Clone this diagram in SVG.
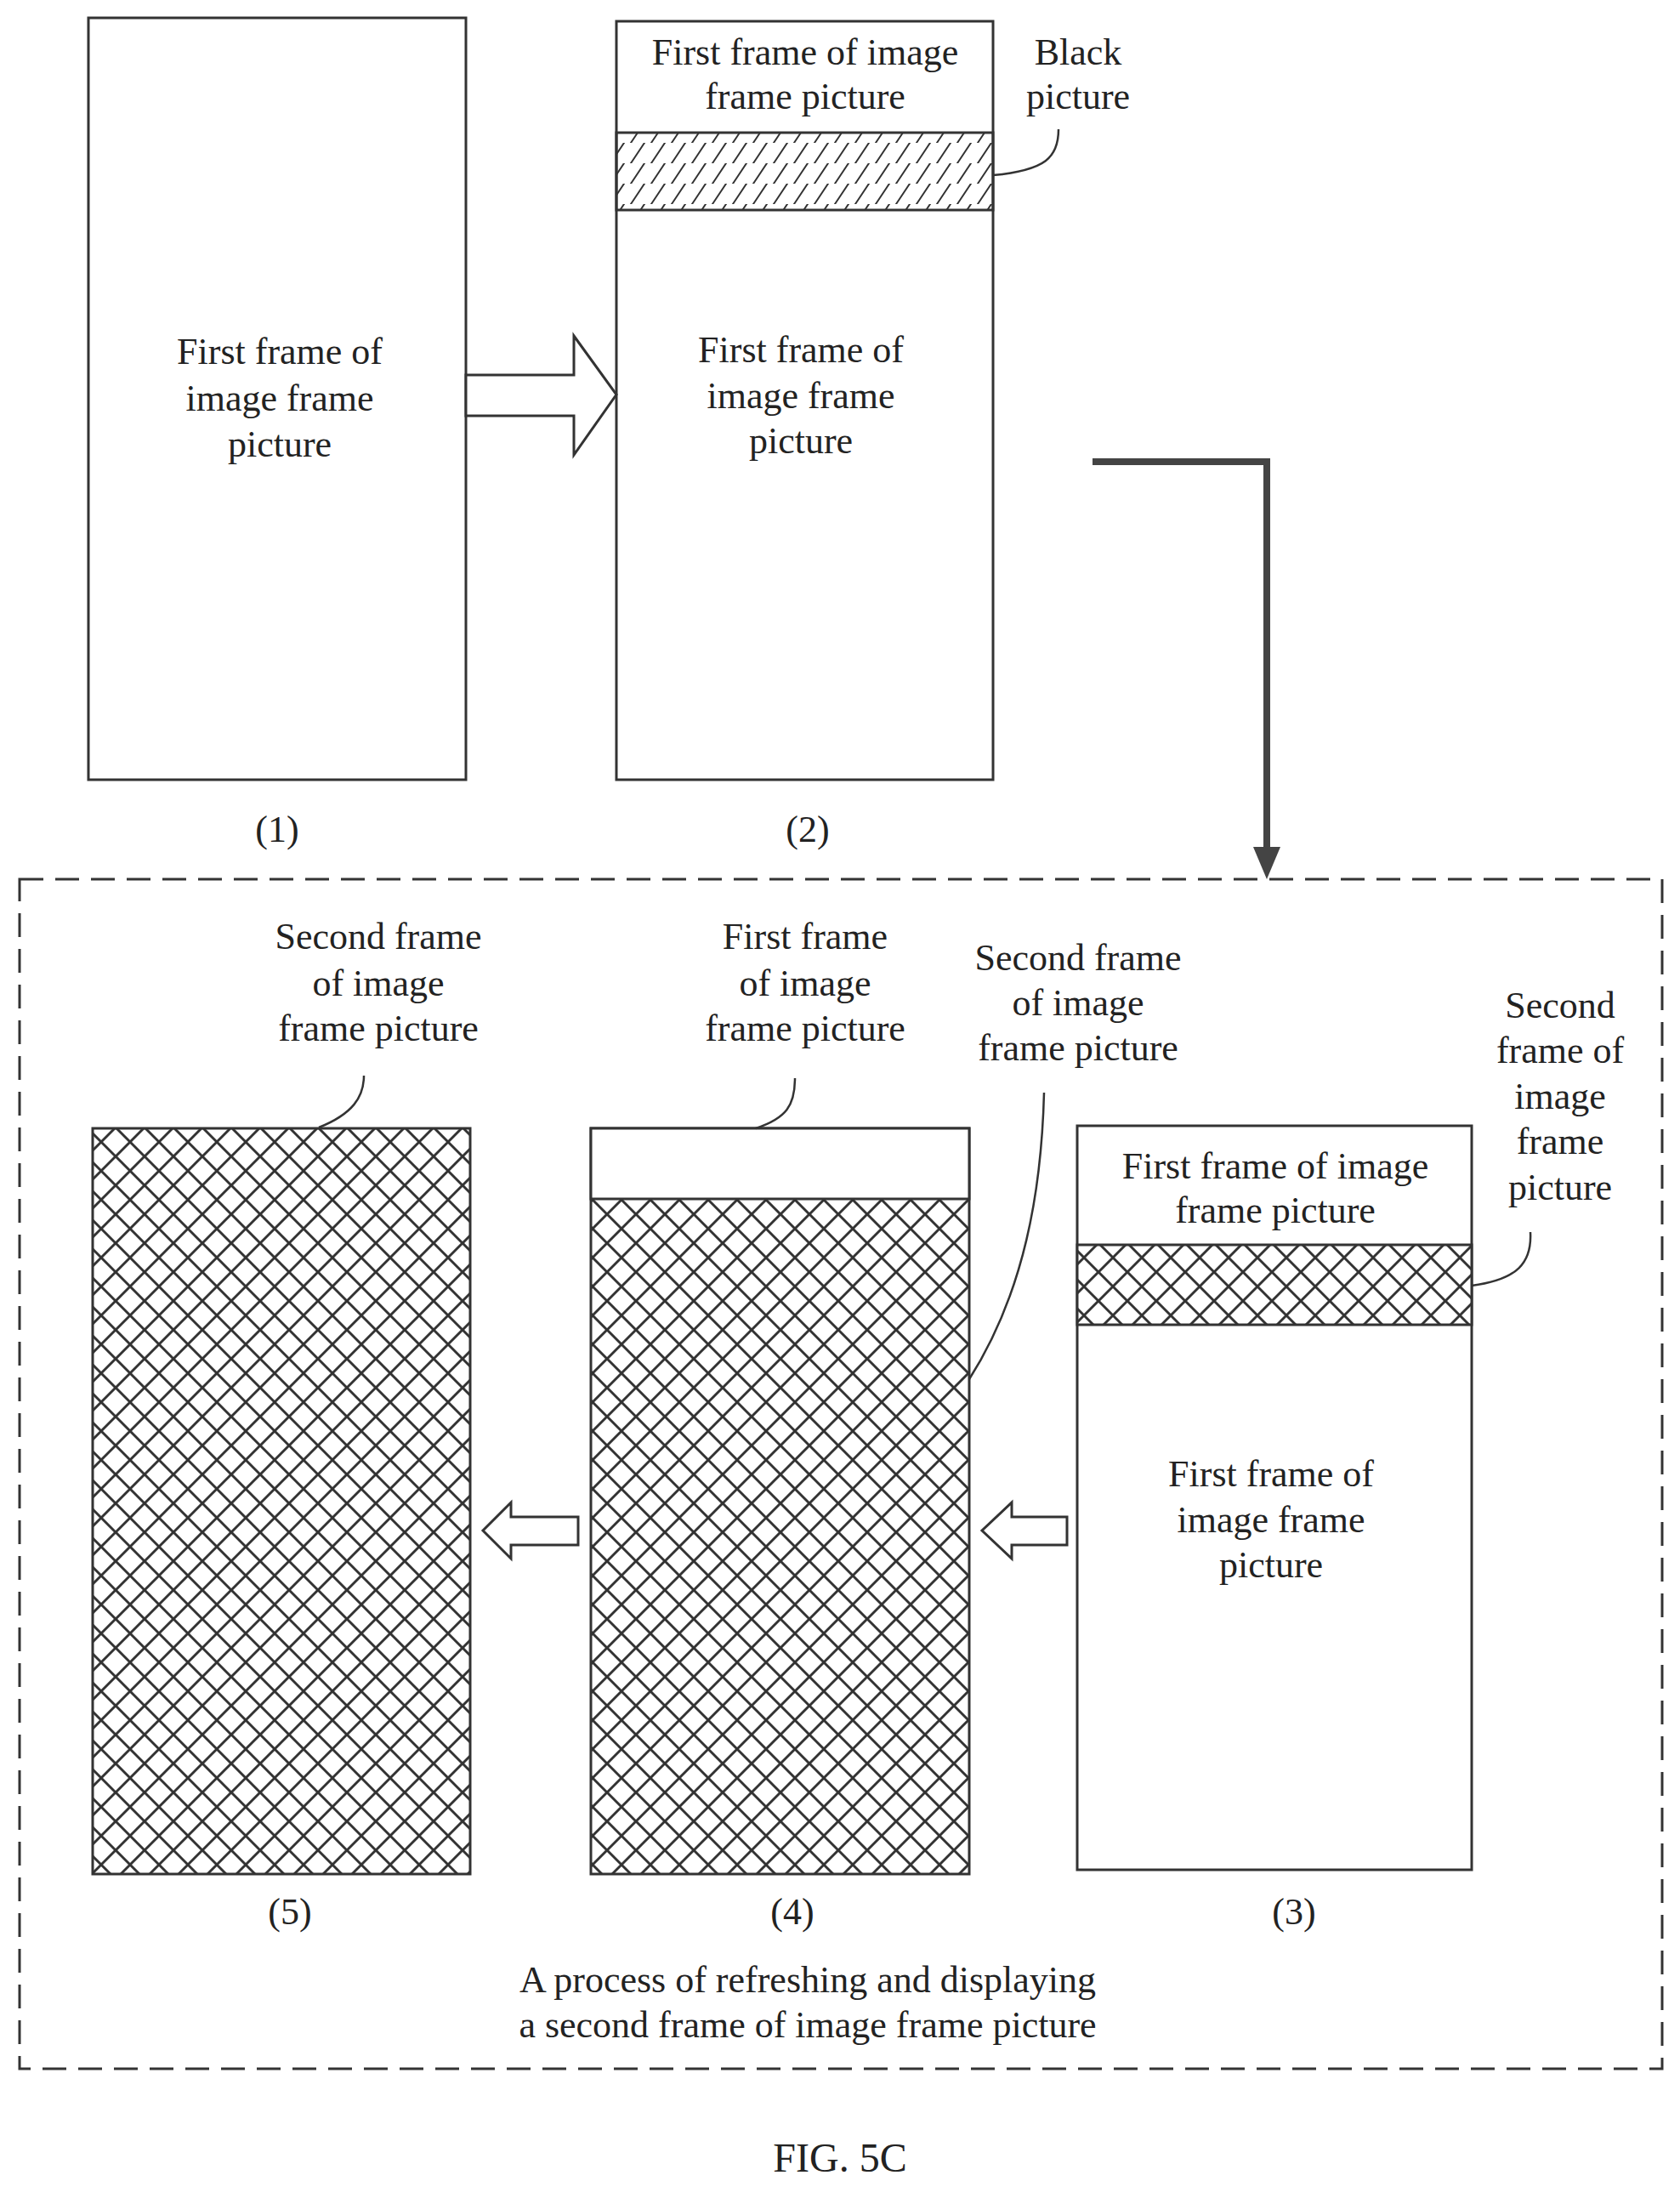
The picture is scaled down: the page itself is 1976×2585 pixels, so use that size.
<svg xmlns="http://www.w3.org/2000/svg" width="1976" height="2585" viewBox="0 0 1976 2585">
<style>
text{font-family:"Liberation Serif",serif;font-size:44px;fill:#222;text-anchor:middle}
.b{fill:#fff;stroke:#333;stroke-width:3}
.l{fill:none;stroke:#333;stroke-width:2.5}
.ha{fill:#fff;stroke:#333;stroke-width:3;stroke-linejoin:miter}
</style>
<defs>
<pattern id="diag" width="24" height="24" patternUnits="userSpaceOnUse">
<path d="M-6,30 L18,-6 M18,30 L42,-6" stroke="#333" stroke-width="2"/>
</pattern>
<pattern id="cross" width="34" height="34" patternUnits="userSpaceOnUse">
<rect width="34" height="34" fill="#fff"/>
<path d="M0,0 L34,34 M34,0 L0,34" stroke="#333" stroke-width="3"/>
</pattern>
</defs>
<g id="n1">
<rect class="b" x="104" y="21" width="444" height="896"/>
<text x="329" y="428">First frame of</text>
<text x="329" y="483">image frame</text>
<text x="329" y="537">picture</text>
<text x="326" y="990">(1)</text>
</g>
<g id="n2">
<rect class="b" x="725" y="25" width="443" height="892"/>
<rect x="725" y="156" width="443" height="91" fill="url(#diag)" stroke="#333" stroke-width="3"/>
<text x="947" y="76">First frame of image</text>
<text x="947" y="128">frame picture</text>
<text x="942" y="426">First frame of</text>
<text x="942" y="480">image frame</text>
<text x="942" y="533">picture</text>
<text x="1268" y="76">Black</text>
<text x="1268" y="128">picture</text>
<path class="l" d="M1168,206 C1230,200 1245,185 1245,152"/>
<text x="950" y="990">(2)</text>
</g>
<g id="group">
<rect x="23" y="1034" width="1932" height="1399" fill="none" stroke="#333" stroke-width="3" stroke-dasharray="28,14"/>
<text x="950" y="2343">A process of refreshing and displaying</text>
<text x="950" y="2396">a second frame of image frame picture</text>
</g>
<g id="n5">
<rect x="109" y="1327" width="444" height="877" fill="url(#cross)" stroke="#333" stroke-width="3"/>
<text x="445" y="1116">Second frame</text>
<text x="445" y="1171">of image</text>
<text x="445" y="1224">frame picture</text>
<path class="l" d="M375,1326 C415,1310 428,1290 428,1265"/>
<text x="341" y="2263">(5)</text>
</g>
<g id="n4">
<rect x="695" y="1327" width="445" height="877" fill="url(#cross)" stroke="#333" stroke-width="3"/>
<rect x="695" y="1327" width="445" height="83" fill="#fff" stroke="#333" stroke-width="3"/>
<text x="947" y="1116">First frame</text>
<text x="947" y="1171">of image</text>
<text x="947" y="1224">frame picture</text>
<path class="l" d="M889,1327 C925,1315 935,1300 935,1268"/>
<text x="932" y="2263">(4)</text>
</g>
<g id="n3">
<rect class="b" x="1267" y="1324" width="464" height="875"/>
<rect x="1267" y="1464" width="464" height="94" fill="url(#cross)" stroke="#333" stroke-width="3"/>
<text x="1500" y="1386">First frame of image</text>
<text x="1500" y="1438">frame picture</text>
<text x="1495" y="1748">First frame of</text>
<text x="1495" y="1802">image frame</text>
<text x="1495" y="1855">picture</text>
<text x="1268" y="1141">Second frame</text>
<text x="1268" y="1194">of image</text>
<text x="1268" y="1247">frame picture</text>
<path class="l" d="M1140,1622 C1205,1520 1225,1400 1228,1285"/>
<text x="1835" y="1197">Second</text>
<text x="1835" y="1250">frame of</text>
<text x="1835" y="1304">image</text>
<text x="1835" y="1357">frame</text>
<text x="1835" y="1411">picture</text>
<path class="l" d="M1731,1512 C1785,1505 1802,1485 1800,1449"/>
<text x="1522" y="2263">(3)</text>
</g>
<g id="connectors">
<path class="ha" d="M548,441 L675,441 L675,395 L725,464 L675,535 L675,489 L548,489 Z"/>
<path class="ha" d="M680,1784 L601,1784 L601,1767 L568,1800 L601,1833 L601,1817 L680,1817 Z"/>
<path class="ha" d="M1255,1784 L1190,1784 L1190,1767 L1155,1800 L1190,1833 L1190,1817 L1255,1817 Z"/>
<path d="M1285,543 L1490,543 L1490,1000" fill="none" stroke="#444" stroke-width="8"/>
<path d="M1474,996 L1506,996 L1490,1034 Z" fill="#444"/>
</g>
<text x="988" y="2554" style="font-size:48px">FIG. 5C</text>
</svg>
